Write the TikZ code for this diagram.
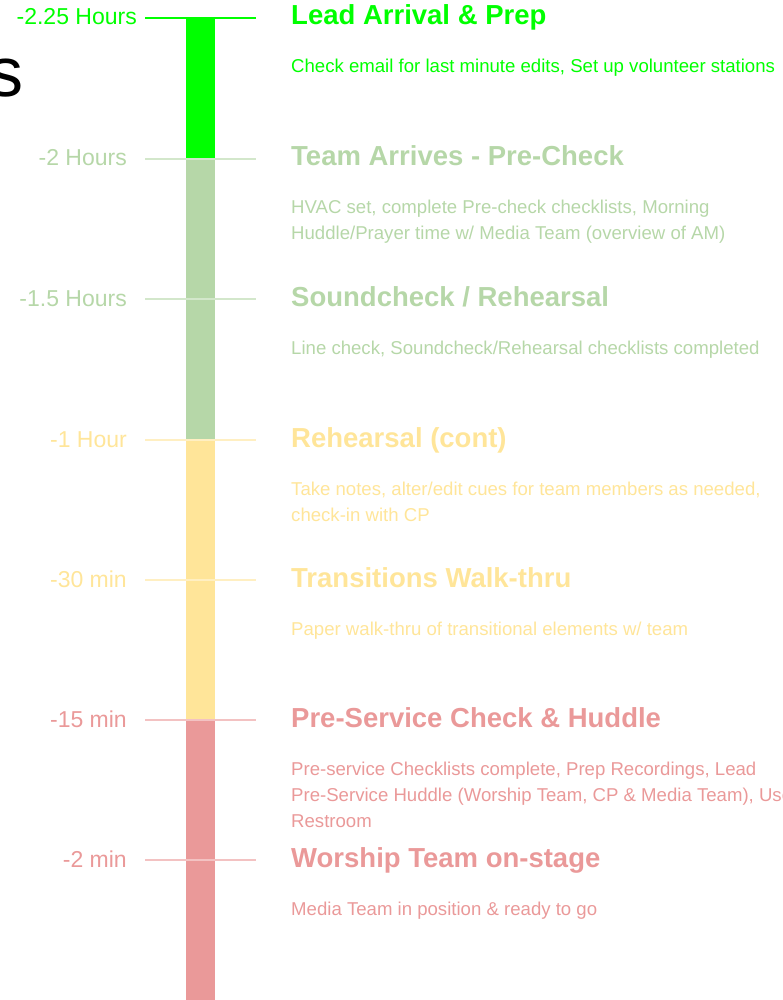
\documentclass[tikz,border=0pt]{standalone}
\usepackage{fontspec}
\setmainfont{Liberation Sans}
\usetikzlibrary{positioning}

\definecolor{leadgreen}{HTML}{00FF00}
\definecolor{teamgreen}{HTML}{B6D7A8}
\definecolor{rehyellow}{HTML}{FFE599}
\definecolor{svcpink}{HTML}{EA9999}

\begin{document}
\begin{tikzpicture}[x=1pt, y=-1pt, inner sep=0pt,
    time/.style = {anchor=base east, font=\fontsize{23}{27}\selectfont},
    title/.style = {anchor=base west, font=\bfseries\fontsize{27.5}{32}\selectfont},
    desc/.style = {anchor=base west, align=left, font=\fontsize{18.6}{26}\selectfont},
    tickline/.style = {line width=2pt}]
    \useasboundingbox (0,0) rectangle (783,1000);

    % the bar
    \fill[leadgreen] (186,18) rectangle (215,159);
    \fill[teamgreen] (186,159) rectangle (215,440);
    \fill[rehyellow] (186,440) rectangle (215,720);
    \fill[svcpink] (186,720) rectangle (215,1000);

    % ticks
    \coordinate (a1) at (145,18);  \coordinate (b1) at (256,18);
    \coordinate (a2) at (145,159); \coordinate (b2) at (256,159);
    \coordinate (a3) at (145,299); \coordinate (b3) at (256,299);
    \coordinate (a4) at (145,440); \coordinate (b4) at (256,440);
    \coordinate (a5) at (145,580); \coordinate (b5) at (256,580);
    \coordinate (a6) at (145,720); \coordinate (b6) at (256,720);
    \coordinate (a7) at (145,860); \coordinate (b7) at (256,860);
    \draw[tickline, leadgreen] (a1) -- (b1);
    \draw[tickline, teamgreen!60] (a2) -- (b2);
    \draw[tickline, teamgreen!60] (a3) -- (b3);
    \draw[tickline, rehyellow!60] (a4) -- (b4);
    \draw[tickline, rehyellow!60] (a5) -- (b5);
    \draw[tickline, svcpink!60] (a6) -- (b6);
    \draw[tickline, svcpink!60] (a7) -- (b7);

    \node[anchor=base east, font=\fontsize{70}{72}\selectfont] (heading) at (24,97) {s};

    % time labels
    \node[time, text=leadgreen] (t1) at (137,25) {-2.25 Hours};
    \node[time, text=teamgreen] (t2) at (127,166) {-2 Hours};
    \node[time, text=teamgreen] (t3) at (127,306) {-1.5 Hours};
    \node[time, text=rehyellow] (t4) at (127,447) {-1 Hour};
    \node[time, text=rehyellow] (t5) at (127,587) {-30 min};
    \node[time, text=svcpink] (t6) at (127,727) {-15 min};
    \node[time, text=svcpink] (t7) at (127,867) {-2 min};

    % steps (desc nodes sit on the baseline of their last line)
    \node[title, text=leadgreen] (s1) at (291,25) {Lead Arrival \& Prep};
    \node[desc, text=leadgreen] (d1) at (291,73) {Check email for last minute edits, Set up volunteer stations};

    \node[title, text=teamgreen] (s2) at (291,166) {Team Arrives - Pre-Check};
    \node[desc, text=teamgreen] (d2) at (291,240) {HVAC set, complete Pre-check checklists, Morning\\Huddle/Prayer time w/ Media Team (overview of AM)};

    \node[title, text=teamgreen] (s3) at (291,306) {Soundcheck / Rehearsal};
    \node[desc, text=teamgreen] (d3) at (291,354) {Line check, Soundcheck/Rehearsal checklists completed};

    \node[title, text=rehyellow] (s4) at (291,447) {Rehearsal (cont)};
    \node[desc, text=rehyellow] (d4) at (291,521) {Take notes, alter/edit cues for team members as needed,\\check-in with CP};

    \node[title, text=rehyellow] (s5) at (291,587) {Transitions Walk-thru};
    \node[desc, text=rehyellow] (d5) at (291,635) {Paper walk-thru of transitional elements w/ team};

    \node[title, text=svcpink] (s6) at (291,727) {Pre-Service Check \& Huddle};
    \node[desc, text=svcpink] (d6) at (291,827) {Pre-service Checklists complete, Prep Recordings, Lead\\Pre-Service Huddle (Worship Team, CP \& Media Team), Use\\Restroom};

    \node[title, text=svcpink] (s7) at (291,867) {Worship Team on-stage};
    \node[desc, text=svcpink] (d7) at (291,915) {Media Team in position \& ready to go};
\end{tikzpicture}
\end{document}
